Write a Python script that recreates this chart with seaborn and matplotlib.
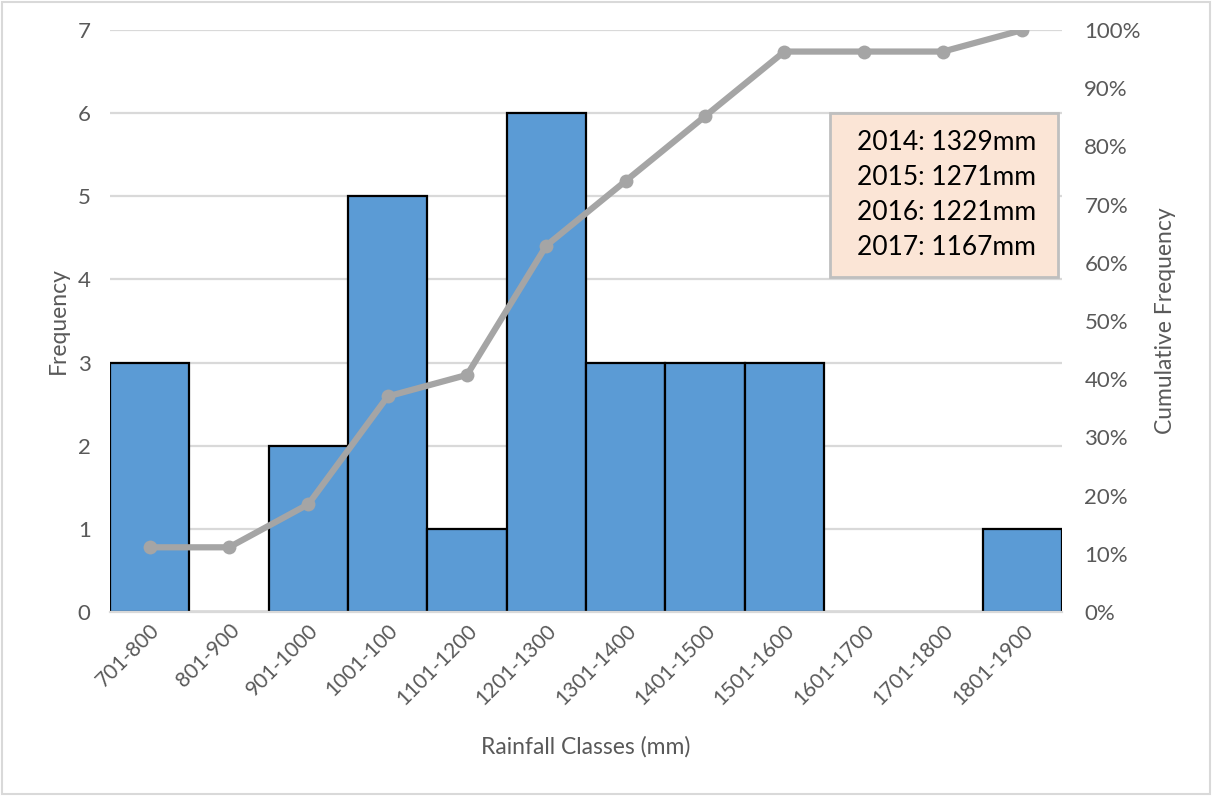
import numpy as np
import pandas as pd
import seaborn as sns
from matplotlib import pyplot as plt
import matplotlib.ticker as mtick

# rainfall class counts
classes = ["701-800", "801-900", "901-1000", "1001-100", "1101-1200", "1201-1300",
           "1301-1400", "1401-1500", "1501-1600", "1601-1700", "1701-1800", "1801-1900"]
frequency = [3, 0, 2, 5, 1, 6, 3, 3, 3, 0, 0, 1]
annual_notes = ["2014: 1329mm", "2015: 1271mm", "2016: 1221mm", "2017: 1167mm"]

df = pd.DataFrame({"Class": classes, "Frequency": frequency})
df["Cumulative"] = df["Frequency"].cumsum() / df["Frequency"].sum()

sns.set_style("white")
plt.rcParams["font.family"] = ["Lato", "DejaVu Sans"]
text_grey = "#595959"

fig = plt.figure(figsize=(12.12, 7.96), dpi=100)
ax = fig.add_axes([0.0908, 0.2312, 0.7855, 0.7311])

sns.barplot(data=df, x="Class", y="Frequency", color="#5B9BD5", width=1.0,
            edgecolor="black", linewidth=1.6, saturation=1, ax=ax, zorder=2)

ax.set_ylim(0, 7)
ax.set_xlim(-0.5, len(classes) - 0.5)
ax.yaxis.set_major_locator(mtick.MultipleLocator(1))
ax.grid(axis="y", color="#D9D9D9", linewidth=1.6, zorder=0)
ax.set_axisbelow(True)
for s in ["top", "left", "right"]:
    ax.spines[s].set_visible(False)
ax.spines["bottom"].set_color("#D9D9D9")
ax.spines["bottom"].set_linewidth(1.6)
ax.tick_params(axis="y", length=0, labelsize=16, colors=text_grey, pad=14)
ax.tick_params(axis="x", length=0, labelsize=15, colors=text_grey, pad=6)
plt.setp(ax.get_xticklabels(), rotation=45, ha="right", rotation_mode="anchor")
ax.set_xlabel("Rainfall Classes (mm)", fontsize=16.5, color=text_grey, labelpad=20)
ax.set_ylabel("Frequency", fontsize=16.5, color=text_grey, labelpad=6)

# cumulative frequency line on the secondary axis
ax2 = ax.twinx()
sns.lineplot(data=df, x="Class", y="Cumulative", sort=False, color="#A5A5A5",
             linewidth=4.5, marker="o", markersize=10, markeredgewidth=0, ax=ax2)
ax2.set_ylim(0, 1)
ax2.yaxis.set_major_locator(mtick.MultipleLocator(0.1))
ax2.yaxis.set_major_formatter(mtick.PercentFormatter(1.0, decimals=0))
for s in ax2.spines.values():
    s.set_visible(False)
ax2.tick_params(axis="y", length=0, labelsize=16, colors=text_grey, pad=16)
ax2.set_ylabel("Cumulative Frequency", fontsize=16.5, color=text_grey, labelpad=10)
ax2.set_xlabel("")

# annotation box with yearly totals
ax2.add_patch(plt.Rectangle((0.756, 0.5756), 0.240, 0.2814, transform=ax2.transAxes,
                            facecolor="#FBE5D6", edgecolor="#BFBFBF", linewidth=2,
                            zorder=5, clip_on=False))
ax2.text(0.7847, 0.7163, "\n".join(annual_notes), transform=ax2.transAxes,
         fontsize=19, color="black", va="center", ha="left", linespacing=1.5,
         zorder=6)

fig.patches.append(plt.Rectangle((0.002, 0.002), 0.996, 0.996, transform=fig.transFigure,
                                 fill=False, edgecolor="#D9D9D9", linewidth=1.5))

fig.savefig("out.png", dpi=100)
